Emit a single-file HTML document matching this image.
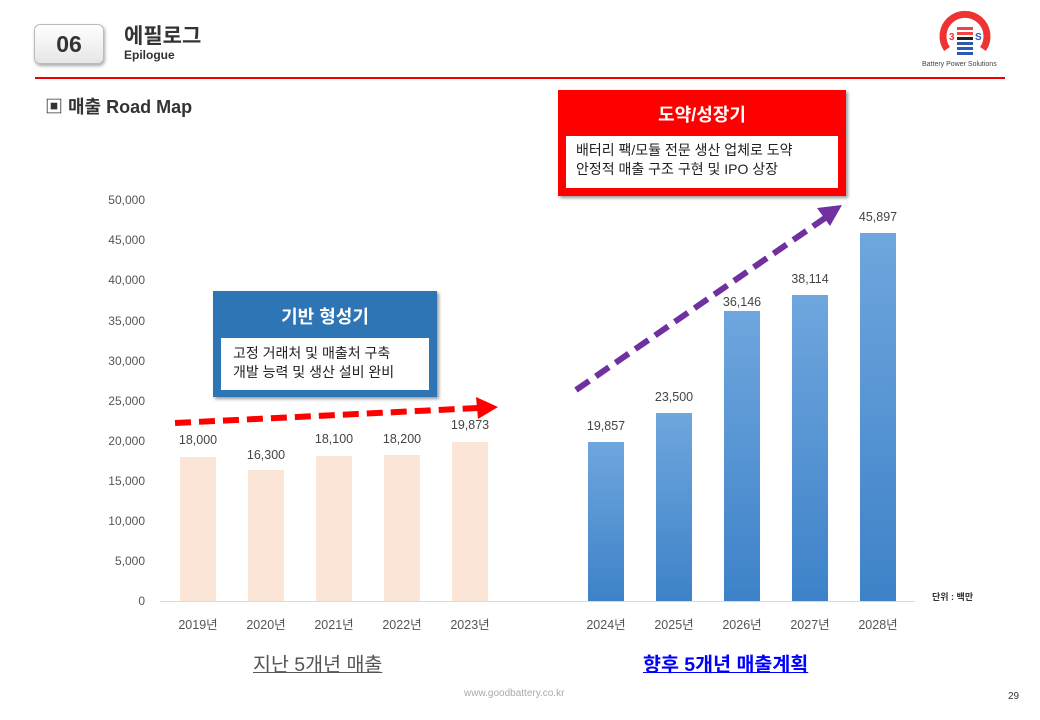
<!DOCTYPE html>
<html><head><meta charset="utf-8"><style>
body{margin:0;width:1040px;height:720px;background:#fff;font-family:"Liberation Sans","Noto Sans CJK KR",sans-serif;position:relative;overflow:hidden}
.a{position:absolute}
</style></head><body>
<div class="a" style="left:34px;top:24px;width:68px;height:38px;border:1px solid #bbb;border-radius:6px;background:linear-gradient(#fff,#e6e6e6);box-shadow:1px 2px 3px #aaa;font-weight:bold;font-size:23px;color:#333;text-align:center;line-height:38px">06</div>
<div class="a" style="left:124px;top:20px;font-size:21px;font-weight:bold;color:#333">에필로그</div>
<div class="a" style="left:124px;top:48px;font-size:12px;font-weight:bold;color:#333">Epilogue</div>
<div class="a" style="left:35px;top:77px;width:970px;height:2px;background:#e00"></div>
<svg class="a" style="left:935px;top:5px" width="60" height="55" viewBox="0 0 60 55">
<path d="M12 44 A22 22 0 1 1 48 44" fill="none" stroke="#e33" stroke-width="7"/>
<rect x="22" y="22" width="16" height="3" fill="#e44"/><rect x="22" y="27" width="16" height="3" fill="#e44"/>
<rect x="22" y="32" width="16" height="3" fill="#222"/><rect x="22" y="37" width="16" height="3" fill="#2a5ab5"/>
<rect x="22" y="42" width="16" height="3" fill="#2a5ab5"/><rect x="22" y="47" width="16" height="3" fill="#2a5ab5"/>
<text x="14" y="35" font-size="10" font-weight="bold" fill="#e33">3</text><text x="40" y="35" font-size="10" font-weight="bold" fill="#2a5ab5">S</text>
</svg>
<div class="a" style="left:922px;top:61px;font-size:7px;color:#444">Battery Power Solutions</div>
<div class="a" style="left:45px;top:93px;font-size:18px;font-weight:bold;color:#333">▣ 매출 Road Map</div>

<svg class="a" style="left:0;top:0" width="1040" height="720">
<g font-size="12" fill="#555" text-anchor="end">
<text x="145" y="605">0</text><text x="145" y="565">5,000</text><text x="145" y="525">10,000</text><text x="145" y="485">15,000</text><text x="145" y="445">20,000</text><text x="145" y="405">25,000</text><text x="145" y="365">30,000</text><text x="145" y="325">35,000</text><text x="145" y="284">40,000</text><text x="145" y="244">45,000</text><text x="145" y="204">50,000</text>
</g>
<line x1="160" y1="601.5" x2="915" y2="601.5" stroke="#d9d9d9"/>
<g fill="#fbe5d6">
<rect x="180" y="457" width="36" height="144"/><rect x="248" y="470" width="36" height="131"/><rect x="316" y="456" width="36" height="145"/><rect x="384" y="455" width="36" height="146"/><rect x="452" y="442" width="36" height="159"/>
</g>
<defs><linearGradient id="g" x1="0" y1="0" x2="0" y2="1"><stop offset="0" stop-color="#6fa6de"/><stop offset="1" stop-color="#3d82c8"/></linearGradient></defs>
<g fill="url(#g)">
<rect x="588" y="442" width="36" height="159"/><rect x="656" y="413" width="36" height="188"/><rect x="724" y="311" width="36" height="290"/><rect x="792" y="295" width="36" height="306"/><rect x="860" y="233" width="36" height="368"/>
</g>
<g font-size="12.5" fill="#444" text-anchor="middle">
<text x="198" y="444">18,000</text><text x="266" y="459">16,300</text><text x="334" y="443">18,100</text><text x="402" y="443">18,200</text><text x="470" y="429">19,873</text>
<text x="606" y="430">19,857</text><text x="674" y="401">23,500</text><text x="742" y="306">36,146</text><text x="810" y="283">38,114</text><text x="878" y="221">45,897</text>
<g fill="#555"><text x="198" y="629">2019년</text><text x="266" y="629">2020년</text><text x="334" y="629">2021년</text><text x="402" y="629">2022년</text><text x="470" y="629">2023년</text>
<text x="606" y="629">2024년</text><text x="674" y="629">2025년</text><text x="742" y="629">2026년</text><text x="810" y="629">2027년</text><text x="878" y="629">2028년</text></g>
</g>
<line x1="175" y1="423" x2="478" y2="408" stroke="#f00" stroke-width="6" stroke-dasharray="16,8"/>
<polygon points="498,407 476,397 478,419" fill="#f00"/>
<line x1="576" y1="390" x2="825" y2="218" stroke="#7030a0" stroke-width="6" stroke-dasharray="16,8"/>
<polygon points="842,205 817,208 830,226" fill="#7030a0"/>
<text x="932" y="600" font-size="9" font-weight="bold" fill="#333">단위 : 백만</text>
</svg>

<div class="a" style="left:213px;top:291px;width:224px;height:106px;background:#2e75b6;box-shadow:2px 2px 3px #999">
<div style="text-align:center;color:#fff;font-weight:bold;font-size:18px;margin-top:12px">기반 형성기</div>
<div style="margin:9px 8px 0;background:#fff;height:52px;font-size:14px;color:#222;padding:6px 0 0 12px;box-sizing:border-box;line-height:19px">고정 거래처 및 매출처 구축<br>개발 능력 및 생산 설비 완비</div>
</div>
<div class="a" style="left:558px;top:90px;width:288px;height:106px;background:#f00;box-shadow:2px 2px 3px #999">
<div style="text-align:center;color:#fff;font-weight:bold;font-size:18px;margin-top:11px">도약/성장기</div>
<div style="margin:9px 8px 0;background:#fff;height:52px;font-size:14px;color:#222;padding:5px 0 0 10px;box-sizing:border-box;line-height:19px">배터리 팩/모듈 전문 생산 업체로 도약<br>안정적 매출 구조 구현 및 IPO 상장</div>
</div>
<div class="a" style="left:253px;top:648px;font-size:19.5px;color:#555;text-decoration:underline">지난 5개년 매출</div>
<div class="a" style="left:643px;top:648px;font-size:19.5px;color:#00f;font-weight:bold;text-decoration:underline">향후 5개년 매출계획</div>
<div class="a" style="left:464px;top:688px;font-size:10px;color:#aaa">www.goodbattery.co.kr</div>
<div class="a" style="left:1008px;top:691px;font-size:10px;color:#333">29</div>
</body></html>
